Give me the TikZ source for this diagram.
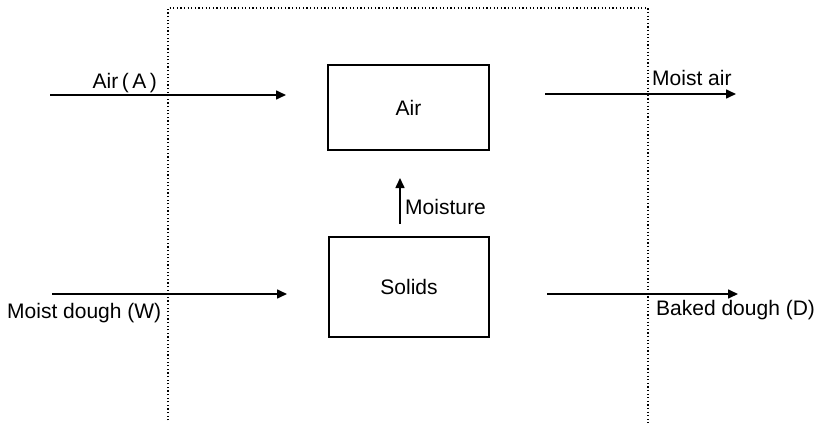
\documentclass[tikz,border=0pt]{standalone}
\usepackage{fontspec}
\setmainfont{Liberation Sans}
\usetikzlibrary{arrows.meta}
\begin{document}
\begin{tikzpicture}[x=1pt,y=-1pt,
  font=\fontsize{21}{25}\selectfont,
  boxnode/.style={draw,line width=1.8pt,inner sep=0pt},
  flow/.style={line width=1.6pt,-{Triangle[length=10pt,width=9pt]}},
  lbl/.style={inner sep=0pt},
  bound/.style={line width=1.2pt,dash pattern=on 1.2pt off 2.4pt}]
\useasboundingbox (0,0) rectangle (820,423);
% system boundary
\coordinate (bl) at (168,424);
\coordinate (tl) at (168,8);
\coordinate (tr) at (648,8);
\coordinate (br) at (648,424);
\draw[bound] (bl) -- (tl) -- (tr) -- (br);
% boxes
\node[boxnode,minimum width=161pt,minimum height=85pt] (air) at (408.5,107.5) {Air};
\node[boxnode,minimum width=160pt,minimum height=100pt] (solids) at (409,287) {Solids};
% flow end points
\coordinate (a1) at (50,95);
\coordinate (a2) at (286,95);
\coordinate (m1) at (545,94);
\coordinate (m2) at (736,94);
\coordinate (w1) at (52,294);
\coordinate (w2) at (287,294);
\coordinate (d1) at (547,294);
\coordinate (d2) at (738,294);
\coordinate (v1) at (400,224);
\coordinate (v2) at (400,178);
\draw[flow] (a1) -- (a2);
\draw[flow] (m1) -- (m2);
\draw[flow] (w1) -- (w2);
\draw[flow] (d1) -- (d2);
\draw[flow] (v1) -- (v2);
% labels
\node[lbl,anchor=base east] (la) at (157,88) {Air\,(\,A\,)};
\node[lbl,anchor=base west] (lm) at (652,85) {Moist air};
\node[lbl,anchor=base west] (lw) at (7,318) {Moist dough (W)};
\node[lbl,anchor=base west] (ld) at (656,315) {Baked dough (D)};
\node[lbl,anchor=base west] (lv) at (405,214) {Moisture};
\end{tikzpicture}
\end{document}
